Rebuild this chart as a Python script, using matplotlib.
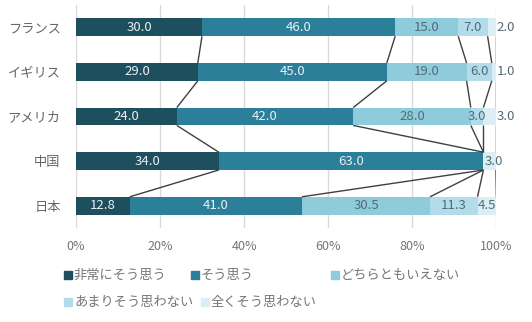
import matplotlib
matplotlib.use("Agg")
import matplotlib.pyplot as plt
from matplotlib.patches import Rectangle
import numpy as np

plt.rcParams['font.family'] = ['Noto Sans CJK JP', 'DejaVu Sans']

countries = ["フランス", "イギリス", "アメリカ", "中国", "日本"]
series_names = ["非常にそう思う", "そう思う", "どちらともいえない", "あまりそう思わない", "全くそう思わない"]
very_agree = [30.0, 29.0, 24.0, 34.0, 12.8]
agree = [46.0, 45.0, 42.0, 63.0, 41.0]
neutral = [15.0, 19.0, 28.0, 0.0, 30.5]
disagree = [7.0, 6.0, 3.0, 0.0, 11.3]
strongly_disagree = [2.0, 1.0, 3.0, 3.0, 4.5]
xticks = [0, 20, 40, 60, 80, 100]
xtick_labels = ["0%", "20%", "40%", "60%", "80%", "100%"]

colors = ["#1e4f5e", "#2b7f99", "#8ecbdb", "#b2dcea", "#dbeef4"]
label_colors = ["#e9f1f4", "#e9f1f4", "#526b78", "#526b78", "#526b78"]
text_gray = "#757575"

data = np.array([very_agree, agree, neutral, disagree, strongly_disagree])
n = len(countries)
ypos = np.arange(n)
h = 0.4

fig = plt.figure(figsize=(5.32, 3.22), dpi=100)
ax = fig.add_axes([76/532, 1-228/322, 420/532, 223/322])

left = np.zeros(n)
cums = []
for k in range(5):
    ax.barh(ypos, data[k], left=left, height=h, color=colors[k], zorder=2)
    for i in range(n):
        v = data[k][i]
        if v <= 0:
            continue
        cx = left[i] + v / 2
        ha = 'center'
        if k == 4 and v < 4 and data[3][i] > 0:
            cx = 100.2
            ha = 'left'
        elif k == 4 and v < 4:
            cx = cx + 1.0
        ax.text(cx, ypos[i], f"{v:.1f}", ha=ha, va='center', fontsize=9.5,
                color=label_colors[k], zorder=4)
    left = left + data[k]
    cums.append(left.copy())

# series lines
for k in range(5):
    c = cums[k]
    for i in range(n - 1):
        ax.plot([c[i], c[i + 1]], [ypos[i] + h/2, ypos[i + 1] - h/2],
                color="#404040", lw=1.0, zorder=3, solid_capstyle='butt')

ax.set_xlim(0, 100)
ax.set_ylim(n - 0.5, -0.5)
ax.set_xticks(xticks)
ax.set_xticklabels(xtick_labels, fontsize=9, color=text_gray)
ax.set_yticks(ypos)
ax.set_yticklabels(countries, fontsize=9.5, color="#666666")
ax.tick_params(length=0)
ax.tick_params(axis='x', pad=9)
ax.tick_params(axis='y', pad=11)
for s in ax.spines.values():
    s.set_visible(False)
ax.grid(axis='x', color="#d9d9d9", lw=1, zorder=0)
ax.set_axisbelow(True)

# legend
leg_pos = [(68, 275), (195, 275), (335, 275), (68, 302), (205, 302)]
for k, (px, py) in enumerate(leg_pos):
    sz = 8
    fig.patches.append(Rectangle(((px - sz/2)/532, 1 - (py + sz/2)/322), sz/532, sz/322,
                                 transform=fig.transFigure, color=colors[k], figure=fig))
    fig.text((px + 6)/532, 1 - py/322, series_names[k], fontsize=9.5, color=text_gray,
             va='center', ha='left')

fig.savefig("out.png", dpi=100)
